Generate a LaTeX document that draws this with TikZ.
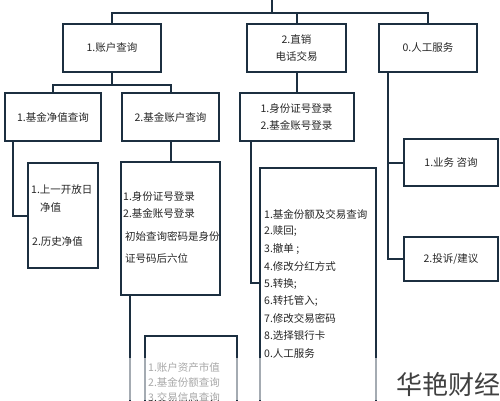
\documentclass[tikz,border=0pt]{standalone}
\usepackage{fontspec}
\setmainfont{Noto Sans CJK SC}
\usetikzlibrary{calc}
\definecolor{ln}{RGB}{28,47,64}
\begin{document}
\begin{tikzpicture}[x=1pt,y=-1pt,
 box/.style={draw=ln, line width=2pt, fill=white, inner sep=0pt, align=center, font=\fontsize{10.5}{17}\selectfont, text=black!85},
 txt/.style={inner sep=0pt, anchor=west, font=\fontsize{10.5}{13}\selectfont, text=black!85},
 conn/.style={draw=ln, line width=2pt}]
\useasboundingbox (0,0) rectangle (500,400);
\clip (0,0) rectangle (500,400);
\fill[white] (0,0) rectangle (500,400);

% level 1
\node[box, minimum width=98pt, minimum height=48pt] (B1) at (112,48) {1.账户查询};
\node[box, minimum width=99pt, minimum height=48pt] (B2) at (296.5,48) {2.直销\\电话交易};
\node[box, minimum width=98pt, minimum height=48pt] (B3) at (428,48) {0.人工服务};
\coordinate (top) at (272,0);
\coordinate (hub) at (272,13);
\draw[conn] (top) -- (hub);
\draw[conn] (B1.north) -- (B1.north |- hub) -- (B3.north |- hub) -- (B3.north);
\draw[conn] (B2.north) -- (B2.north |- hub);

% level 2
\node[box, minimum width=96pt, minimum height=48pt] (C1) at (53,117) {1.基金净值查询};
\node[box, minimum width=97pt, minimum height=48pt] (C2) at (170.5,117) {2.基金账户查询};
\node[box, minimum width=114pt, minimum height=48pt] (C3) at (296.5,117) {1.身份证号登录\\2.基金账号登录};
\draw[conn] (B1.south) -- ($(B1.south)+(0,12)$);
\draw[conn] (C1.north) |- ($(B1.south)+(0,12)$) -| (C2.north);
\draw[conn] (B2.south) -- (C3.north);

% right branch
\node[box, minimum width=94pt, minimum height=47pt] (F1) at (451,162.5) {1.业务 咨询};
\node[box, minimum width=94pt, minimum height=44pt] (F2) at (451,259) {2.投诉/建议};
\coordinate (b3s) at ($(B3.south west)+(10,0)$);
\draw[conn] (b3s) |- (F2.west);
\draw[conn] (b3s |- F1.west) -- (F1.west);

% level 3
\node[box, minimum width=70pt, minimum height=105pt] (D1) at (63,215.5) {};
\node[txt] (d1a) at (31,190) {1.上一开放日};
\node[txt] (d1b) at (40,207) {净值};
\node[txt] (d1c) at (32,241) {2.历史净值};
\draw[conn] ($(C1.south west)+(9,0)$) |- (D1.west);

\node[box, minimum width=99pt, minimum height=133pt] (D2) at (170.5,228.5) {};
\node[txt] (d2a) at (123,197) {1.身份证号登录};
\node[txt] (d2b) at (123,213) {2.基金账号登录};
\node[txt] (d2c) at (125,236) {初始查询密码是身份};
\node[txt] (d2d) at (125,258) {证号码后六位};
\draw[conn] (C2.south) -- (D2.north);
\draw[conn] ($(D2.south west)+(10,0)$) -- ++(0,130);

\node[box, minimum width=116pt, minimum height=262pt] (D3) at (318,299) {};
\foreach \t [count=\i] in {1.基金份额及交易查询, 2.赎回;, 3.撤单 ;, 4.修改分红方式, 5.转换;, 6.转托管入;, 7.修改交易密码, 8.选择银行卡, 0.人工服务}
  \node[txt] (d3l\i) at (264,{214+17.4*(\i-1)}) {\t};
\draw[conn] ($(C3.south west)+(12,0)$) |- ($(D3.north west)+(0,116)$);

\node[box, minimum width=92pt, minimum height=94pt] (E1) at (191,383) {};
\node[txt] (e1a) at (148,367) {1.账户资产市值};
\node[txt] (e1b) at (148,382) {2.基金份额查询};
\node[txt] (e1c) at (148,397) {3.交易信息查询};

% fade
\fill[white, opacity=0.6] (0,358) rectangle (392,400);

\node[inner sep=0pt, font=\fontsize{26}{26}\selectfont, text=black!75] (wm) at (448,384) {华艳财经};
\end{tikzpicture}
\end{document}
